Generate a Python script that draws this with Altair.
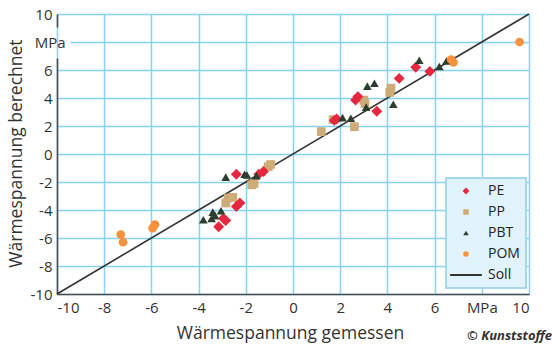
import altair as alt
import pandas as pd

# ---- data ----
pe_x = [-3.15, -2.95, -2.85, -2.4, -2.25, -2.4, -1.45, -1.25, 1.75, 1.85, 2.65, 2.75, 3.55, 4.5, 5.2, 5.8]
pe_y = [-5.2, -4.6, -4.75, -3.75, -3.5, -1.45, -1.45, -1.25, 2.4, 2.5, 3.85, 4.1, 3.05, 5.4, 6.2, 5.9]

pp_x = [-2.85, -2.75, -2.55, -1.75, -1.65, -1.05, -0.95, 1.2, 1.7, 2.6, 3.0, 3.05, 4.1, 4.15]
pp_y = [-3.5, -3.15, -3.1, -2.2, -2.1, -0.9, -0.75, 1.6, 2.45, 1.95, 3.85, 3.6, 4.4, 4.7]

pbt_x = [-3.8, -3.45, -3.4, -3.3, -3.05, -2.85, -2.05, -1.95, -1.55, 2.1, 2.45, 3.1, 3.15, 3.45, 4.25, 5.35, 6.2, 6.5]
pbt_y = [-4.7, -4.6, -4.15, -4.4, -4.05, -1.65, -1.45, -1.5, -1.55, 2.6, 2.55, 3.35, 4.85, 5.05, 3.55, 6.7, 6.25, 6.65]

pom_x = [-7.3, -7.2, -5.95, -5.85, 6.7, 6.8, 9.6]
pom_y = [-5.75, -6.3, -5.3, -5.05, 6.75, 6.55, 8.0]

soll_x = [-10, 10]
soll_y = [-10, 10]

series = ["PE", "PP", "PBT", "POM", "Soll"]
colors = ["#e5283f", "#cfab78", "#2d3e2e", "#f6913e", "#333333"]
shapes = ["M0,-1.25L1.25,0L0,1.25L-1.25,0Z", "square", "triangle-up", "circle",
          "M-5.8,-0.36H5.8V0.36H-5.8Z"]

ticks = [-10, -8, -6, -4, -2, 0, 2, 4, 6, 8, 10]
x_title = "Wärmespannung gemessen"
y_title = "Wärmespannung berechnet"
credit = ["© Kunststoffe"]

# ---- tables ----
rows = []
for name, xs, ys in [("PP", pp_x, pp_y), ("PE", pe_x, pe_y), ("PBT", pbt_x, pbt_y), ("POM", pom_x, pom_y)]:
    for a, b in zip(xs, ys):
        rows.append({"x": a, "y": b, "s": name})
df = pd.DataFrame(rows)
soll = pd.DataFrame({"x": soll_x, "y": soll_y})

FONT = "Open Sans"
label_expr = "datum.value == 8 ? 'MPa' : '' + datum.value"

common_axis = dict(
    values=ticks, labelExpr=label_expr, grid=True, ticks=False,
    labelOverlap=False,
    domainColor="#4d4d4d", domainWidth=1.6,
    gridColor="#86d2f2", gridWidth=1.5,
    labelFont=FONT, labelFontSize=15, labelColor="#333333",
    titleFont=FONT, titleFontSize=17.5, titleFontWeight="normal", titleColor="#333333",
)

x_axis = alt.Axis(title=x_title, labelPadding=6, titleX=233, titleY=44,
                  titleBaseline="alphabetic", titleAlign="center", **common_axis)
y_axis = alt.Axis(title=y_title,
                  labelPadding={"condition": {"test": "datum.value == 8", "value": -8}, "value": 5},
                  gridDash={"condition": {"test": "datum.value == 8", "value": [0, 13, 459]}, "value": []},
                  domainDash=[236, 31, 13],
                  titleX=-36, titleY=139, titleAngle=270,
                  titleBaseline="alphabetic", titleAlign="center", **common_axis)

xs_ = alt.Scale(domain=[-10, 10], nice=False, zero=False)
ys_ = alt.Scale(domain=[-10, 10], nice=False, zero=False)

color_scale = alt.Scale(domain=series, range=colors)
shape_scale = alt.Scale(domain=series, range=shapes)

legend = alt.Legend(orient="none", legendX=389, legendY=164, title=None,
                    fillColor="#e1f3fc", strokeColor="#a6d7f0", padding=6,
                    symbolSize=30, symbolStrokeWidth=0, symbolOffset=7,
                    labelFont=FONT, labelFontSize=14, labelColor="#222222",
                    labelOffset=15, rowPadding=7)

line = alt.Chart(soll).mark_line(strokeWidth=1.6, color="#333333").encode(
    x=alt.X("x:Q", scale=xs_, axis=x_axis),
    y=alt.Y("y:Q", scale=ys_, axis=y_axis),
)

points = alt.Chart(df).mark_point(filled=True, size=76, opacity=1).encode(
    x=alt.X("x:Q", scale=xs_, axis=x_axis),
    y=alt.Y("y:Q", scale=ys_, axis=y_axis),
    color=alt.Color("s:N", scale=color_scale, legend=legend),
    shape=alt.Shape("s:N", scale=shape_scale, legend=legend),
)

text = alt.Chart(pd.DataFrame({"t": credit})).mark_text(
    align="right", baseline="alphabetic", font=FONT, fontSize=13,
    fontStyle="italic", fontWeight="bold", color="#333333"
).encode(x=alt.value(495), y=alt.value(326), text="t:N")

chart = (
    alt.layer(line, points, text)
    .properties(
        width=472, height=280,
        autosize=alt.AutoSizeParams(type="none"),
        padding={"left": 57, "top": 14, "right": 23, "bottom": 50},
    )
    .configure_view(stroke=None, fill="#e1f3fc")
    .configure(background="white")
    .configure_axis(labelOverlap=False)
    .configure_legend(strokeWidth=2)
)

chart.save("out.html", embed_options={"renderer": "svg", "actions": False})
